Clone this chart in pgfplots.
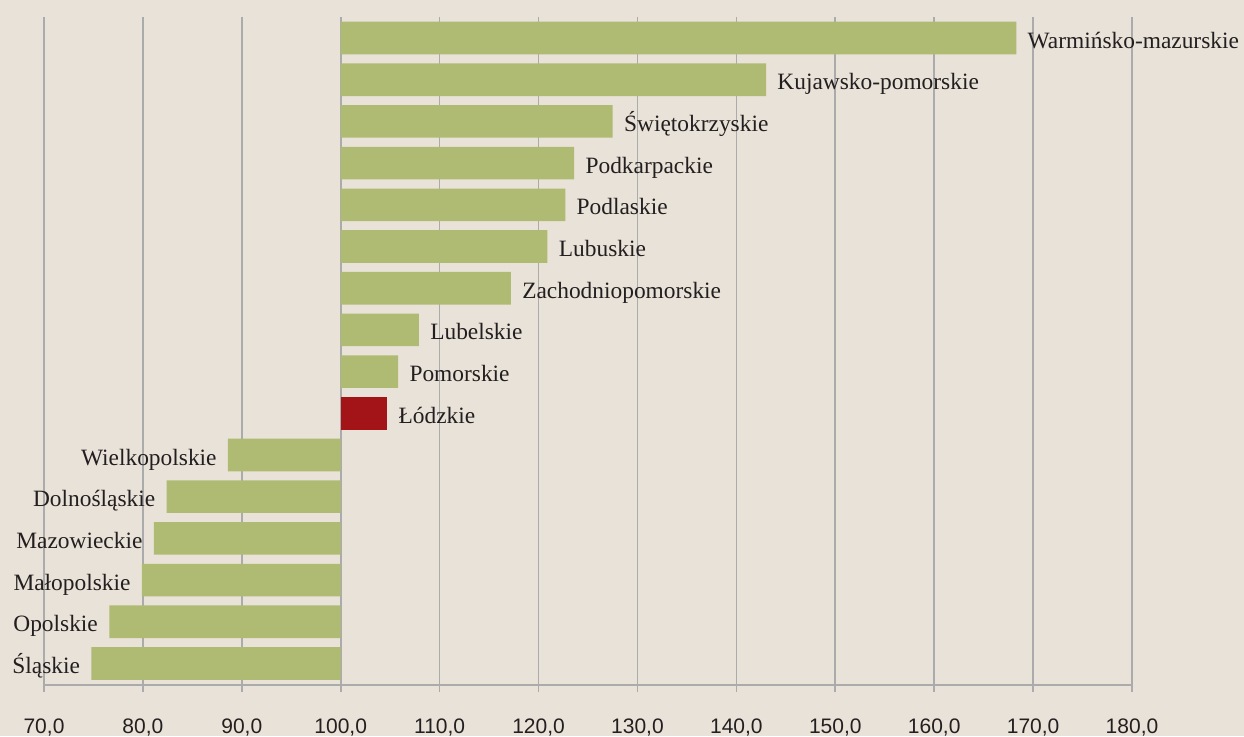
\documentclass[border=0pt]{standalone}
\usepackage{pgfplots}
\pgfplotsset{compat=1.18}
\usepackage{pgfplotstable}
\usepackage{fontspec}
\setmainfont{Liberation Serif}
\newfontfamily\tickfont{Liberation Sans}
\definecolor{bg}{HTML}{E9E2D8}
\definecolor{barg}{HTML}{AFBB72}
\definecolor{barr}{HTML}{A31419}
\definecolor{gridc}{HTML}{ABABAB}
\definecolor{txt}{HTML}{231F20}

\pgfplotstableread{
y val name
0 74.8 Śląskie
1 76.6 Opolskie
2 79.9 Małopolskie
3 81.1 Mazowieckie
4 82.4 Dolnośląskie
5 88.6 Wielkopolskie
}\negtable

\pgfplotstableread{
y val name
6 104.7 Łódzkie
}\redtable

\pgfplotstableread{
y val name
7 105.8 Pomorskie
8 107.9 Lubelskie
9 117.2 Zachodniopomorskie
10 120.9 Lubuskie
11 122.7 Podlaskie
12 123.6 Podkarpackie
13 127.5 Świętokrzyskie
14 143.0 Kujawsko-pomorskie
15 168.3 Warmińsko-mazurskie
}\postable

\begin{document}
\begin{tikzpicture}
\fill[bg] (-22pt,-25.5pt) rectangle (600pt,342.5pt);
\begin{axis}[
  at={(0,0)}, anchor=south west,
  scale only axis, width=544pt, height=334pt,
  xmin=-30, xmax=80, ymin=-0.516, ymax=15.504,
  axis x line*=bottom, axis y line=none,
  x axis line style={gridc, line width=0.8pt, -},
  xtick={-30,-20,...,80},
  xticklabels={{70,0},{80,0},{90,0},{100,0},{110,0},{120,0},{130,0},{140,0},{150,0},{160,0},{170,0},{180,0}},
  xtick align=outside, major tick length=3.5pt,
  xtick style={gridc, line width=0.8pt},
  xmajorgrids, grid style={gridc, line width=0.8pt},
  xticklabel style={font=\tickfont\fontsize{10.5}{12}\selectfont, text=txt, yshift=-10pt},
  /pgf/number format/assume math mode=true,
  ytick=\empty,
  clip=false,
  xbar, bar width=16.3pt, bar shift=0pt,
  point meta=explicit symbolic,
  nodes near coords,
  every node near coord/.append style={font=\fontsize{11.7}{13}\selectfont, text=txt, inner sep=0pt},
]
\addplot[fill=barg, draw=none, x filter/.expression={x-100},
  every node near coord/.append style={anchor=base east, xshift=-5.5pt, yshift=-5pt}]
  table[x=val, y=y, meta=name] {\negtable};
\addplot[fill=barr, draw=none, x filter/.expression={x-100},
  every node near coord/.append style={anchor=base west, xshift=5.5pt, yshift=-5pt}]
  table[x=val, y=y, meta=name] {\redtable};
\addplot[fill=barg, draw=none, x filter/.expression={x-100},
  every node near coord/.append style={anchor=base west, xshift=5.5pt, yshift=-5pt}]
  table[x=val, y=y, meta=name] {\postable};
\end{axis}
\pgfresetboundingbox
\path (-22pt,-25.5pt) rectangle (600pt,342.5pt);
\end{tikzpicture}
\end{document}
